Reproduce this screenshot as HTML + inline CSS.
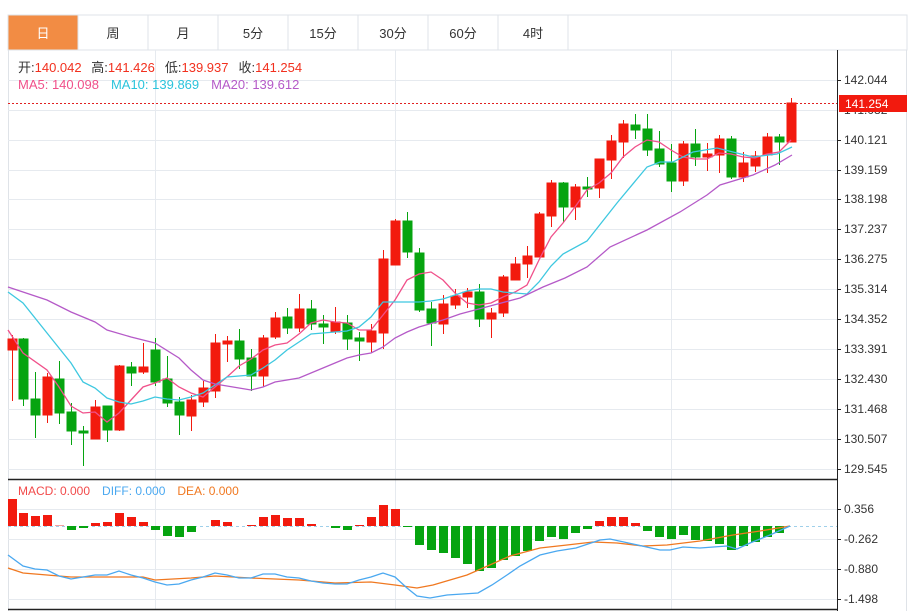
<!DOCTYPE html>
<html><head><meta charset="utf-8"><style>
html,body{margin:0;padding:0;background:#fff;}
body{width:920px;height:611px;overflow:hidden;position:relative;font-family:"Liberation Sans","Noto Sans CJK SC",sans-serif;}
svg{position:absolute;left:0;top:0;}
text{font-family:"Liberation Sans","Noto Sans CJK SC",sans-serif;}
</style></head><body>
<svg width="920" height="611" viewBox="0 0 920 611">
<rect x="8" y="15" width="899" height="35" fill="#fff" stroke="#dfe3e8"/>
<rect x="8.5" y="15.5" width="69" height="34" fill="#f28c44"/>
<g stroke="#dfe3e8"><line x1="78" y1="15" x2="78" y2="50"/><line x1="148" y1="15" x2="148" y2="50"/><line x1="218" y1="15" x2="218" y2="50"/><line x1="288" y1="15" x2="288" y2="50"/><line x1="358" y1="15" x2="358" y2="50"/><line x1="428" y1="15" x2="428" y2="50"/><line x1="498" y1="15" x2="498" y2="50"/><line x1="568" y1="15" x2="568" y2="50"/></g>
<g font-size="13" text-anchor="middle" fill="#333">
<text x="43" y="38" fill="#fff">日</text><text x="113" y="38">周</text><text x="183" y="38">月</text><text x="253" y="38">5分</text><text x="323" y="38">15分</text><text x="393" y="38">30分</text><text x="463" y="38">60分</text><text x="533" y="38">4时</text>
</g>
<g stroke="#dfe3e8"><line x1="8.5" y1="50" x2="8.5" y2="611"/><line x1="906.5" y1="50" x2="906.5" y2="611"/></g>
<g stroke="#e6eaef" stroke-width="1">
<line x1="8" y1="80.5" x2="837" y2="80.5"/><line x1="8" y1="110.5" x2="837" y2="110.5"/><line x1="8" y1="140.5" x2="837" y2="140.5"/><line x1="8" y1="170.5" x2="837" y2="170.5"/><line x1="8" y1="199.5" x2="837" y2="199.5"/><line x1="8" y1="229.5" x2="837" y2="229.5"/><line x1="8" y1="259.5" x2="837" y2="259.5"/><line x1="8" y1="289.5" x2="837" y2="289.5"/><line x1="8" y1="319.5" x2="837" y2="319.5"/><line x1="8" y1="349.5" x2="837" y2="349.5"/><line x1="8" y1="379.5" x2="837" y2="379.5"/><line x1="8" y1="409.5" x2="837" y2="409.5"/><line x1="8" y1="439.5" x2="837" y2="439.5"/><line x1="8" y1="469.5" x2="837" y2="469.5"/>
<line x1="8" y1="509.5" x2="837" y2="509.5"/><line x1="8" y1="539.5" x2="837" y2="539.5"/><line x1="8" y1="569.5" x2="837" y2="569.5"/><line x1="8" y1="599.5" x2="837" y2="599.5"/>
<line x1="155.5" y1="50" x2="155.5" y2="609"/><line x1="395.5" y1="50" x2="395.5" y2="609"/><line x1="671.5" y1="50" x2="671.5" y2="609"/>
</g>
<g stroke="#222"><line x1="837.5" y1="50" x2="837.5" y2="611"/><line x1="8" y1="479.5" x2="837" y2="479.5" stroke-width="1.5"/><line x1="8" y1="609.5" x2="837" y2="609.5" stroke-width="1.5"/></g>
<g stroke="#222"><line x1="837" y1="80.5" x2="841" y2="80.5"/><line x1="837" y1="140.5" x2="841" y2="140.5"/><line x1="837" y1="170.5" x2="841" y2="170.5"/><line x1="837" y1="199.5" x2="841" y2="199.5"/><line x1="837" y1="229.5" x2="841" y2="229.5"/><line x1="837" y1="259.5" x2="841" y2="259.5"/><line x1="837" y1="289.5" x2="841" y2="289.5"/><line x1="837" y1="319.5" x2="841" y2="319.5"/><line x1="837" y1="349.5" x2="841" y2="349.5"/><line x1="837" y1="379.5" x2="841" y2="379.5"/><line x1="837" y1="409.5" x2="841" y2="409.5"/><line x1="837" y1="439.5" x2="841" y2="439.5"/><line x1="837" y1="469.5" x2="841" y2="469.5"/><line x1="837" y1="509.5" x2="841" y2="509.5"/><line x1="837" y1="539.5" x2="841" y2="539.5"/><line x1="837" y1="569.5" x2="841" y2="569.5"/><line x1="837" y1="599.5" x2="841" y2="599.5"/></g>
<g font-size="12" fill="#333">
<text x="844" y="84">142.044</text><text x="844" y="114">141.082</text><text x="844" y="144">140.121</text><text x="844" y="174">139.159</text><text x="844" y="203">138.198</text><text x="844" y="233">137.237</text><text x="844" y="263">136.275</text><text x="844" y="293">135.314</text><text x="844" y="323">134.352</text><text x="844" y="353">133.391</text><text x="844" y="383">132.430</text><text x="844" y="413">131.468</text><text x="844" y="443">130.507</text><text x="844" y="473">129.545</text>
<text x="844" y="513">0.356</text><text x="844" y="543">-0.262</text><text x="844" y="573">-0.880</text><text x="844" y="603">-1.498</text>
</g>
<line x1="8" y1="103.5" x2="837" y2="103.5" stroke="#e02020" stroke-dasharray="2,2"/>
<rect x="839" y="95" width="68" height="17" fill="#f21a0e"/>
<text x="845" y="108" font-size="12" fill="#fff">141.254</text>
<g font-size="13">
<text x="18" y="72" fill="#333">开:<tspan fill="#f2301e">140.042</tspan>  <tspan fill="#333" dx="6">高:</tspan><tspan fill="#f2301e">141.426</tspan><tspan fill="#333" dx="10">低:</tspan><tspan fill="#f2301e">139.937</tspan><tspan fill="#333" dx="10">收:</tspan><tspan fill="#f2301e">141.254</tspan></text>
<text x="18" y="89" fill="#f0508a">MA5: 140.098<tspan fill="#2bc4dc" dx="12">MA10: 139.869</tspan><tspan fill="#b55ac8" dx="12">MA20: 139.612</tspan></text>
<text x="18" y="495" fill="#f24a4a" font-size="12">MACD: 0.000<tspan fill="#4aa8f0" dx="12">DIFF: 0.000</tspan><tspan fill="#f07820" dx="12">DEA: 0.000</tspan></text>
</g>
<g id="c">
<g stroke="#f21a0e" fill="#f21a0e">
<line x1="12.5" y1="335" x2="12.5" y2="401"/><rect x="8" y="339" width="9" height="11"/>
<line x1="47.5" y1="373" x2="47.5" y2="423"/><rect x="43" y="377" width="9" height="38"/>
<line x1="95.5" y1="400" x2="95.5" y2="439"/><rect x="91" y="407" width="9" height="32"/>
<line x1="119.5" y1="365" x2="119.5" y2="431"/><rect x="115" y="366" width="9" height="64"/>
<line x1="143.5" y1="343" x2="143.5" y2="374"/><rect x="139" y="367" width="9" height="5"/>
<line x1="191.5" y1="395" x2="191.5" y2="431"/><rect x="187" y="400" width="9" height="16"/>
<line x1="203.5" y1="381" x2="203.5" y2="407"/><rect x="199" y="388" width="9" height="14"/>
<line x1="215.5" y1="334" x2="215.5" y2="398"/><rect x="211" y="343" width="9" height="48"/>
<line x1="227.5" y1="336" x2="227.5" y2="362"/><rect x="223" y="341" width="9" height="3"/>
<line x1="263.5" y1="335" x2="263.5" y2="387"/><rect x="259" y="338" width="9" height="38"/>
<line x1="275.5" y1="312" x2="275.5" y2="339"/><rect x="271" y="318" width="9" height="19"/>
<line x1="299.5" y1="294" x2="299.5" y2="332"/><rect x="295" y="309" width="9" height="19"/>
<line x1="335.5" y1="307" x2="335.5" y2="334"/><rect x="331" y="322" width="9" height="10"/>
<line x1="371.5" y1="324" x2="371.5" y2="353"/><rect x="367" y="331" width="9" height="11"/>
<line x1="383.5" y1="250" x2="383.5" y2="349"/><rect x="379" y="259" width="9" height="74"/>
<line x1="395.5" y1="219" x2="395.5" y2="265"/><rect x="391" y="221" width="9" height="44"/>
<line x1="443.5" y1="295" x2="443.5" y2="334"/><rect x="439" y="304" width="9" height="20"/>
<line x1="455.5" y1="289" x2="455.5" y2="309"/><rect x="451" y="296" width="9" height="9"/>
<line x1="467.5" y1="288" x2="467.5" y2="308"/><rect x="463" y="292" width="9" height="5"/>
<line x1="491.5" y1="308" x2="491.5" y2="338"/><rect x="487" y="313" width="9" height="6"/>
<line x1="503.5" y1="275" x2="503.5" y2="317"/><rect x="499" y="277" width="9" height="36"/>
<line x1="515.5" y1="257" x2="515.5" y2="280"/><rect x="511" y="264" width="9" height="16"/>
<line x1="527.5" y1="246" x2="527.5" y2="278"/><rect x="523" y="256" width="9" height="8"/>
<line x1="539.5" y1="212" x2="539.5" y2="257"/><rect x="535" y="214" width="9" height="43"/>
<line x1="551.5" y1="180" x2="551.5" y2="227"/><rect x="547" y="183" width="9" height="33"/>
<line x1="575.5" y1="184" x2="575.5" y2="220"/><rect x="571" y="187" width="9" height="20"/>
<line x1="599.5" y1="159" x2="599.5" y2="198"/><rect x="595" y="159" width="9" height="29"/>
<line x1="611.5" y1="135" x2="611.5" y2="179"/><rect x="607" y="141" width="9" height="19"/>
<line x1="623.5" y1="120" x2="623.5" y2="158"/><rect x="619" y="124" width="9" height="18"/>
<line x1="683.5" y1="141" x2="683.5" y2="186"/><rect x="679" y="144" width="9" height="37"/>
<line x1="707.5" y1="143" x2="707.5" y2="171"/><rect x="703" y="154" width="9" height="3"/>
<line x1="719.5" y1="135" x2="719.5" y2="173"/><rect x="715" y="139" width="9" height="16"/>
<line x1="743.5" y1="152" x2="743.5" y2="182"/><rect x="739" y="163" width="9" height="14"/>
<line x1="755.5" y1="151" x2="755.5" y2="172"/><rect x="751" y="156" width="9" height="10"/>
<line x1="767.5" y1="133" x2="767.5" y2="173"/><rect x="763" y="137" width="9" height="18"/>
<line x1="791.5" y1="98" x2="791.5" y2="142"/><rect x="787" y="103" width="9" height="39"/>
</g>
<g stroke="#06a410" fill="#06a410">
<line x1="23.5" y1="338" x2="23.5" y2="406"/><rect x="19" y="339" width="9" height="60"/>
<line x1="35.5" y1="372" x2="35.5" y2="438"/><rect x="31" y="399" width="9" height="16"/>
<line x1="59.5" y1="361" x2="59.5" y2="424"/><rect x="55" y="379" width="9" height="34"/>
<line x1="71.5" y1="403" x2="71.5" y2="445"/><rect x="67" y="412" width="9" height="19"/>
<line x1="83.5" y1="426" x2="83.5" y2="466"/><rect x="79" y="431" width="9" height="2"/>
<line x1="107.5" y1="406" x2="107.5" y2="442"/><rect x="103" y="406" width="9" height="24"/>
<line x1="131.5" y1="362" x2="131.5" y2="386"/><rect x="127" y="367" width="9" height="6"/>
<line x1="155.5" y1="338" x2="155.5" y2="386"/><rect x="151" y="350" width="9" height="32"/>
<line x1="167.5" y1="356" x2="167.5" y2="407"/><rect x="163" y="379" width="9" height="24"/>
<line x1="179.5" y1="397" x2="179.5" y2="435"/><rect x="175" y="402" width="9" height="13"/>
<line x1="239.5" y1="329" x2="239.5" y2="369"/><rect x="235" y="341" width="9" height="18"/>
<line x1="251.5" y1="349" x2="251.5" y2="391"/><rect x="247" y="358" width="9" height="18"/>
<line x1="287.5" y1="308" x2="287.5" y2="334"/><rect x="283" y="317" width="9" height="11"/>
<line x1="311.5" y1="300" x2="311.5" y2="330"/><rect x="307" y="309" width="9" height="15"/>
<line x1="323.5" y1="315" x2="323.5" y2="344"/><rect x="319" y="324" width="9" height="3"/>
<line x1="347.5" y1="315" x2="347.5" y2="350"/><rect x="343" y="323" width="9" height="16"/>
<line x1="359.5" y1="332" x2="359.5" y2="361"/><rect x="355" y="338" width="9" height="3"/>
<line x1="407.5" y1="212" x2="407.5" y2="258"/><rect x="403" y="221" width="9" height="31"/>
<line x1="419.5" y1="248" x2="419.5" y2="312"/><rect x="415" y="253" width="9" height="57"/>
<line x1="431.5" y1="302" x2="431.5" y2="346"/><rect x="427" y="309" width="9" height="14"/>
<line x1="479.5" y1="284" x2="479.5" y2="327"/><rect x="475" y="292" width="9" height="27"/>
<line x1="563.5" y1="182" x2="563.5" y2="223"/><rect x="559" y="183" width="9" height="24"/>
<line x1="587.5" y1="177" x2="587.5" y2="197"/><rect x="583" y="187" width="9" height="2"/>
<line x1="635.5" y1="114" x2="635.5" y2="139"/><rect x="631" y="125" width="9" height="5"/>
<line x1="647.5" y1="114" x2="647.5" y2="156"/><rect x="643" y="129" width="9" height="21"/>
<line x1="659.5" y1="131" x2="659.5" y2="167"/><rect x="655" y="149" width="9" height="15"/>
<line x1="671.5" y1="144" x2="671.5" y2="192"/><rect x="667" y="163" width="9" height="18"/>
<line x1="695.5" y1="129" x2="695.5" y2="166"/><rect x="691" y="144" width="9" height="13"/>
<line x1="731.5" y1="136" x2="731.5" y2="179"/><rect x="727" y="139" width="9" height="38"/>
<line x1="779.5" y1="134" x2="779.5" y2="165"/><rect x="775" y="137" width="9" height="5"/>
</g>
</g>
<g fill="none" stroke-width="1.3">
<polyline stroke="#f0508a" points="8,330 23,353 47,370 59,387 71,406 83,413 95,412 107,422 119,413 131,400 143,387 155,383 167,378 179,387 191,393 203,397 215,387 227,377 239,366 251,359 263,350 275,345 287,343 299,334 311,323 323,320 335,322 347,323 359,330 371,330 383,315 395,300 407,280 419,274 431,272 443,280 455,293 467,303 479,305 491,303 503,297 515,292 527,285 539,260 551,237 563,223 575,207 587,190 599,183 611,173 623,157 635,147 647,140 659,142 671,150 683,157 695,159 707,159 719,153 731,154 743,157 755,158 767,154 779,152 791,140"/>
<polyline stroke="#3ec8e0" points="8,292 23,303 47,333 71,363 83,382 95,388 107,398 119,402 131,404 143,401 155,397 167,399 179,400 191,397 203,393 215,385 227,377 239,376 251,375 263,368 275,360 287,350 299,342 311,334 323,333 335,332 347,331 359,327 371,317 383,302 395,302 407,302 419,302 431,301 443,299 455,295 467,291 479,289 491,289 503,292 515,293 527,294 539,282 551,266 563,254 587,241 617,203 647,167 660,162 673,162 693,152 717,148 733,152 753,157 777,154 792,147"/>
<polyline stroke="#b55ac8" points="8,287 47,300 71,312 95,322 107,330 131,337 155,343 179,358 191,370 203,380 215,384 239,388 251,390 263,387 275,382 299,378 323,368 335,363 347,358 359,355 371,353 383,347 395,338 407,332 419,327 443,320 460,314 490,306 520,298 543,287 565,278 587,267 610,247 647,230 680,212 707,195 720,185 753,175 775,165 792,155"/>
</g>
<line x1="8" y1="526.5" x2="837" y2="526.5" stroke="#9fd0ea" stroke-dasharray="3,3"/>
<g fill="#f21a0e">
<rect x="8" y="499" width="9" height="27"/><rect x="19" y="513" width="9" height="13"/><rect x="31" y="516" width="9" height="10"/><rect x="43" y="515" width="9" height="11"/><rect x="55" y="525" width="9" height="1" fill="#f5a0a0"/>
<rect x="91" y="523" width="9" height="3"/><rect x="103" y="522" width="9" height="4"/><rect x="115" y="513" width="9" height="13"/><rect x="127" y="517" width="9" height="9"/><rect x="139" y="522" width="9" height="4"/>
<rect x="211" y="520" width="9" height="6"/><rect x="223" y="522" width="9" height="4"/><rect x="247" y="525" width="9" height="1"/>
<rect x="259" y="517" width="9" height="9"/><rect x="271" y="515" width="9" height="11"/><rect x="283" y="518" width="9" height="8"/><rect x="295" y="518" width="9" height="8"/><rect x="307" y="524" width="9" height="2"/>
<rect x="355" y="525" width="9" height="1"/><rect x="367" y="517" width="9" height="9"/><rect x="379" y="505" width="9" height="21"/><rect x="391" y="509" width="9" height="17"/>
<rect x="595" y="521" width="9" height="5"/><rect x="607" y="517" width="9" height="9"/><rect x="619" y="517" width="9" height="9"/><rect x="631" y="523" width="9" height="3"/>
</g>
<g fill="#06a410">
<rect x="67" y="526" width="9" height="4"/><rect x="79" y="526" width="9" height="2"/>
<rect x="151" y="526" width="9" height="4"/><rect x="163" y="526" width="9" height="10"/><rect x="175" y="526" width="9" height="11"/><rect x="187" y="526" width="9" height="6"/>
<rect x="331" y="526" width="9" height="2"/><rect x="343" y="526" width="9" height="4"/><rect x="403" y="526" width="9" height="1"/>
<rect x="415" y="526" width="9" height="19"/><rect x="427" y="526" width="9" height="24"/><rect x="439" y="526" width="9" height="27"/><rect x="451" y="526" width="9" height="32"/><rect x="463" y="526" width="9" height="38"/><rect x="475" y="526" width="9" height="45"/><rect x="487" y="526" width="9" height="42"/><rect x="499" y="526" width="9" height="34"/><rect x="511" y="526" width="9" height="30"/><rect x="523" y="526" width="9" height="25"/><rect x="535" y="526" width="9" height="15"/><rect x="547" y="526" width="9" height="11"/><rect x="559" y="526" width="9" height="13"/><rect x="571" y="526" width="9" height="7"/><rect x="583" y="526" width="9" height="3"/>
<rect x="643" y="526" width="9" height="5"/><rect x="655" y="526" width="9" height="11"/><rect x="667" y="526" width="9" height="13"/><rect x="679" y="526" width="9" height="9"/><rect x="691" y="526" width="9" height="14"/><rect x="703" y="526" width="9" height="15"/><rect x="715" y="526" width="9" height="18"/><rect x="727" y="526" width="9" height="24"/><rect x="739" y="526" width="9" height="20"/><rect x="751" y="526" width="9" height="16"/><rect x="763" y="526" width="9" height="11"/><rect x="775" y="526" width="9" height="7"/>
</g>
<g fill="none" stroke-width="1.3">
<polyline stroke="#f07820" points="8,568 23,573 47,575 71,577 131,577 143,577 155,580 191,578 215,576 251,578 299,580 335,583 371,582 395,585 417,588 433,585 467,575 483,568 510,556 540,548 567,545 593,542 617,543 643,546 667,545 700,541 733,535 760,531 790,526"/>
<polyline stroke="#4aa8f0" points="8,555 23,566 35,569 47,570 59,576 71,579 83,577 95,575 107,575 119,571 131,575 143,578 155,582 167,585 179,584 191,580 203,577 215,573 227,575 239,578 251,578 263,574 275,574 287,577 299,578 311,581 323,583 335,584 347,584 359,580 371,577 383,573 395,577 407,588 417,596 430,598 447,595 478,593 492,585 507,575 520,566 540,555 557,551 576,548 600,540 610,539 633,544 660,550 670,550 683,547 700,548 727,546 737,549 750,543 770,535 790,526"/>
</g>
</svg>
</body></html>
